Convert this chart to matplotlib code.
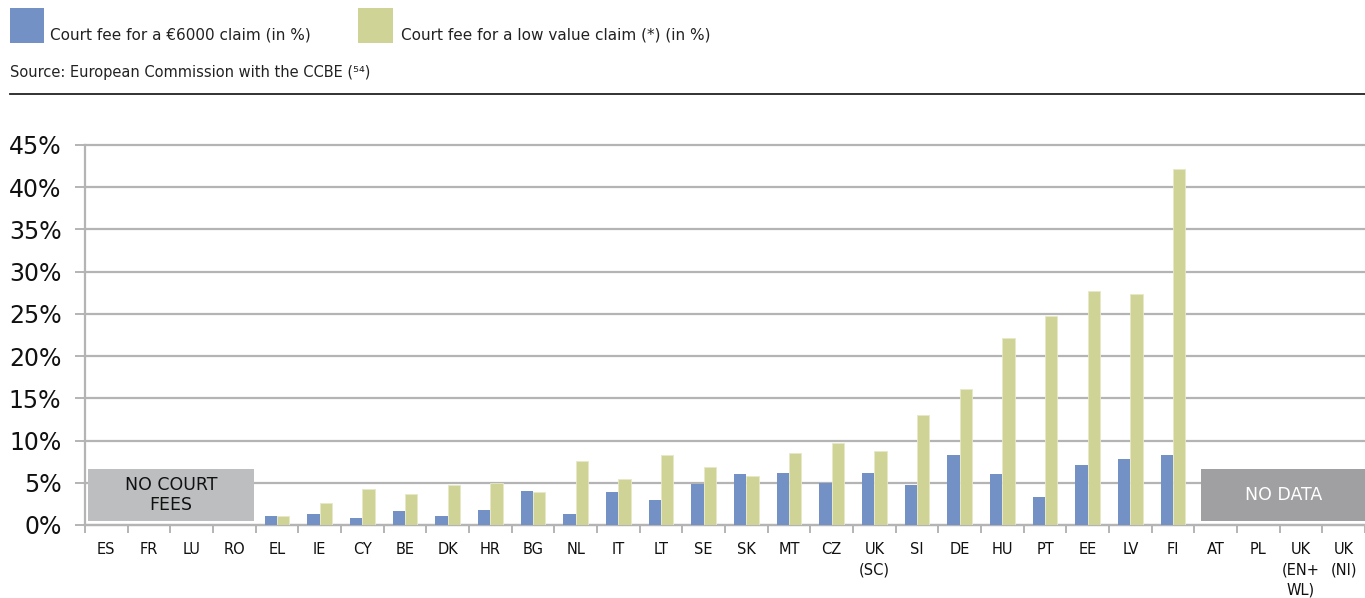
import matplotlib
matplotlib.use('Agg')
import numpy as np
import matplotlib.pyplot as plt
from matplotlib.patches import Rectangle

# Data
countries = ['ES', 'FR', 'LU', 'RO', 'EL', 'IE', 'CY', 'BE', 'DK', 'HR', 'BG', 'NL',
             'IT', 'LT', 'SE', 'SK', 'MT', 'CZ', 'UK\n(SC)', 'SI', 'DE', 'HU', 'PT',
             'EE', 'LV', 'FI', 'AT', 'PL', 'UK\n(EN+\nWL)', 'UK\n(NI)']
fee_6000 = [0, 0, 0, 0, 1.1, 1.3, 0.8, 1.7, 1.1, 1.75, 4.0, 1.3,
            3.9, 3.0, 4.8, 6.0, 6.1, 5.0, 6.2, 4.75, 8.25, 6.0, 3.35,
            7.05, 7.85, 8.3, 0, 0, 0, 0]
fee_low = [0, 0, 0, 0, 1.1, 2.6, 4.3, 3.65, 4.75, 4.95, 3.95, 7.55,
           5.4, 8.3, 6.9, 5.85, 8.5, 9.7, 8.75, 13.05, 16.1, 22.1, 24.8,
           27.7, 27.35, 42.2, 0, 0, 0, 0]
yticks = [0, 5, 10, 15, 20, 25, 30, 35, 40, 45]

blue = '#7391C5'
green = '#CFD396'
grid_col = '#B4B4B4'

W, H = 1365, 598
fig = plt.figure(figsize=(W / 100, H / 100), dpi=100)
ax = fig.add_axes([85 / W, 73 / H, (W - 85) / W, (525 - 145) / H])

x = np.arange(len(countries))
bw = 0.29
ax.bar(x - bw / 2, fee_6000, bw, color=blue, zorder=3)
ax.bar(x + bw / 2, fee_low, bw, color=green, edgecolor='#E6E8C8', linewidth=0.6, zorder=3)

ax.set_xlim(-0.5, len(countries) - 0.5)
ax.set_ylim(0, 45)
ax.set_yticks(yticks)
ax.set_yticklabels([f'{t}%' for t in yticks], fontsize=17, color='#111111')
ax.yaxis.grid(True, color=grid_col, linewidth=1.6, zorder=0)
ax.set_axisbelow(True)
for gl in ax.get_ygridlines():
    gl.set_clip_on(False)

ax.set_xticks(x)
ax.set_xticklabels(countries, fontsize=10.5, color='#111111', linespacing=1.45, va='top')
ax.set_xticks(np.arange(len(countries) + 1) - 0.5, minor=True)
ax.tick_params(axis='x', which='major', length=0, pad=12)
ax.tick_params(axis='x', which='minor', length=6, color=grid_col, width=1.4)
ax.tick_params(axis='y', length=7, color=grid_col, width=1.4, pad=10)

for s in ['top', 'right']:
    ax.spines[s].set_visible(False)
ax.spines['left'].set_color(grid_col)
ax.spines['left'].set_linewidth(1.6)
ax.spines['bottom'].set_color(grid_col)
ax.spines['bottom'].set_linewidth(1.6)

# annotation boxes
ax.add_patch(Rectangle((-0.43, 0.5), 3.9, 6.15, facecolor='#BDBEC0', edgecolor='none', zorder=4))
ax.text(1.52, 3.55, 'NO COURT\nFEES', ha='center', va='center', fontsize=12.5,
        color='#111111', linespacing=1.2, zorder=5)
ax.add_patch(Rectangle((25.66, 0.5), 4.0, 6.15, facecolor='#A0A0A2', edgecolor='none',
                       zorder=4, clip_on=True))
ax.text(27.6, 3.55, 'NO DATA', ha='center', va='center', fontsize=12.5,
        color='white', zorder=5)

# header: legend, source, rule
fig.patches.append(Rectangle((10 / W, 1 - 43 / H), 34 / W, 35 / H, facecolor=blue,
                             transform=fig.transFigure, figure=fig))
fig.text(50 / W, 1 - 35 / H, 'Court fee for a €6000 claim (in %)', fontsize=11,
         va='center', color='#222222')
fig.patches.append(Rectangle((358 / W, 1 - 43 / H), 35 / W, 35 / H, facecolor=green,
                             transform=fig.transFigure, figure=fig))
fig.text(401 / W, 1 - 35 / H, 'Court fee for a low value claim (*) (in %)', fontsize=11,
         va='center', color='#222222')
fig.text(10 / W, 1 - 73 / H, 'Source: European Commission with the CCBE (⁵⁴)', fontsize=10.5,
         va='center', color='#222222')
fig.add_artist(plt.Line2D([10 / W, 1], [1 - 94 / H, 1 - 94 / H], color='#222222',
                          linewidth=1.3, transform=fig.transFigure))

plt.savefig('out.png', dpi=100)
